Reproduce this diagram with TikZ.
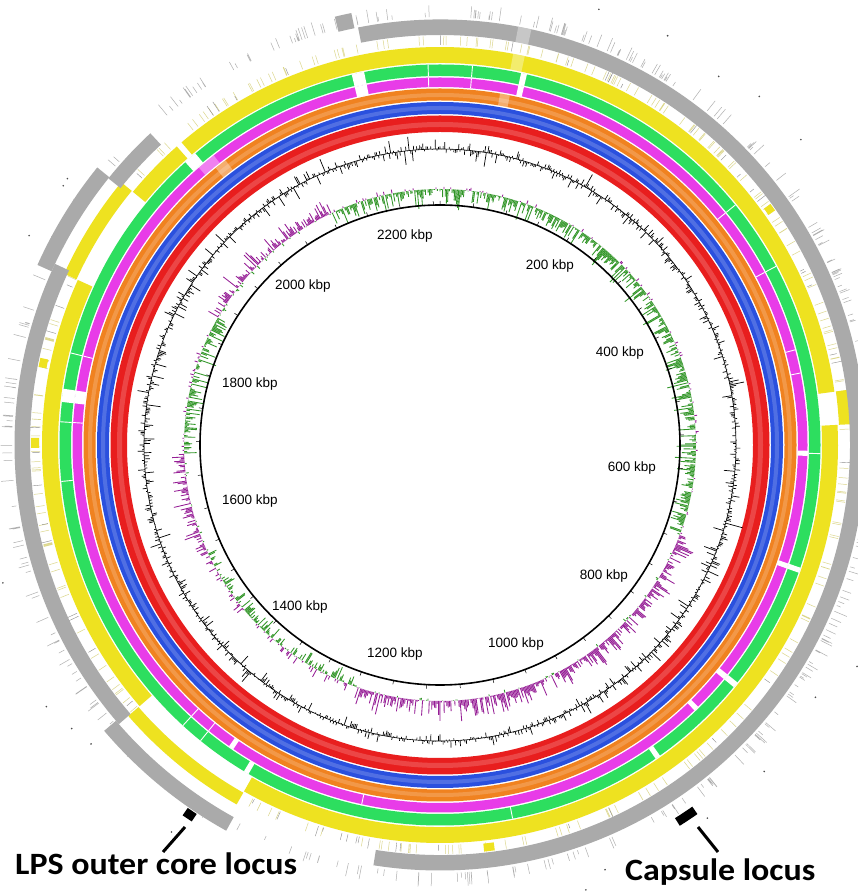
\documentclass[tikz,border=0pt]{standalone}
\usepackage{fontspec}
\setmainfont{Liberation Sans}
\newfontfamily\calfont{Carlito}
\definecolor{cgray}{RGB}{170,170,170}
\definecolor{cyel}{RGB}{238,226,32}
\definecolor{cgreen}{RGB}{45,222,95}
\definecolor{cmag}{RGB}{232,60,232}
\definecolor{corange}{RGB}{240,130,32}
\definecolor{cblue}{RGB}{42,80,222}
\definecolor{cred}{RGB}{232,30,30}
\definecolor{skewg}{RGB}{50,150,40}
\definecolor{skewp}{RGB}{150,30,150}
\definecolor{featy}{RGB}{220,215,140}
\definecolor{featg}{RGB}{175,175,175}
% annular sector: colour, r1, r2, theta1, theta2 (degrees clockwise from top)
\newcommand\ringsec[5]{\fill[#1] ({90-(#4)}:#3pt) arc[start angle={90-(#4)}, end angle={90-(#5)}, radius=#3pt] -- ({90-(#5)}:#2pt) arc[start angle={90-(#5)}, end angle={90-(#4)}, radius=#2pt] -- cycle;}
\newcommand\slitline[4]{\draw[white, line width=#4pt] ({90-(#3)}:#1pt) -- ({90-(#3)}:#2pt);}
\begin{document}
\begin{tikzpicture}[x=1pt,y=1pt,
  kbp/.style={font=\fontsize{13.5}{16}\selectfont, anchor=base, inner sep=0pt},
  bigl/.style={font=\calfont\bfseries\fontsize{31}{36}\selectfont, anchor=base west, inner sep=0pt, xscale=1.095},
  pointer/.style={line width=3pt, black}]
\useasboundingbox (0,0) rectangle (858,892);
\fill[white] (0,0) rectangle (858,892);
\begin{scope}[shift={(440,447)}]
  % faint feature lines
  \pgfmathsetseed{4242}
  \draw[featg, line width=0.5pt] \foreach \i [evaluate=\i as \a using {360*rnd}, evaluate=\i as \l using {4+10*rnd}] in {1,...,330} {(\a:428) -- (\a:{428+\l})};
  \draw[featy, line width=0.5pt] \foreach \i [evaluate=\i as \a using {360*rnd}] in {1,...,260} {(\a:400) -- (\a:409)};
  \draw[featg!80!black, line width=0.4pt] \foreach \i [evaluate=\i as \a using {360*rnd}, evaluate=\i as \l using {4+8*rnd}] in {1,...,60} {(\a:400) -- (\a:{400+\l})};
  \fill[black!70] \foreach \i [evaluate=\i as \a using {360*rnd}, evaluate=\i as \r using {452+22*rnd}] in {1,...,30} {(\a:\r) circle[radius=0.9pt]};
  % full rings
  \ringsec{cred}{313}{329.5}{0}{360}
  \ringsec{cblue}{331}{343}{0}{360}
  \ringsec{corange}{344.5}{356.5}{0}{360}
  \ringsec{cmag}{358}{367.5}{0}{360}
  \ringsec{cgreen}{369}{380.5}{0}{360}
  % yellow track
  \ringsec{cyel}{382}{398}{319.5}{442.3}
  \ringsec{cyel}{382}{398}{87.1}{209.5}
  \ringsec{cyel}{382}{398}{229}{294.5}
  \ringsec{cyel}{382}{398}{309.5}{318.6}
  \ringsec{cyel}{399.5}{413}{82.3}{87.1}
  \ringsec{cyel}{399.5}{413}{209.5}{229}
  \ringsec{cyel}{399.5}{413}{294.5}{309.5}
  \ringsec{cyel}{401}{409}{53.9}{55}
  \ringsec{cyel}{401}{409}{172.3}{173.8}
  \ringsec{cyel}{401}{409}{269.6}{271}
  \ringsec{cyel}{401}{409}{281}{282.3}
  % gray track
  \ringsec{cgray}{410}{425.5}{348.9}{549}
  \ringsec{cgray}{425.5}{441}{346.2}{348.4}
  \ringsec{cgray}{425.5}{441}{209}{229.6}
  \ringsec{cgray}{410}{425.5}{229}{295.2}
  \ringsec{cgray}{425.5}{441}{294.1}{309}
  \ringsec{cgray}{410}{425.5}{308.8}{317.1}
  % subtle highlights on the full rings
  \begin{scope}[opacity=0.18]
    \ringsec{white}{318}{323}{0}{360}
    \ringsec{white}{335}{339}{0}{360}
    \ringsec{white}{348}{352}{0}{360}
  \end{scope}
  % gaps in green and magenta
  \foreach \ta/\tb in {346.6/348.5, 12.3/13.2, 108.8/109.6, 128.6/129.5, 144.7/145.5, 210.2/211, 276.5/278.5, 318/320}{\ringsec{white}{368.6}{380.9}{\ta}{\tb}}
  \foreach \ta/\tb in {346.6/348.5, 12.3/13.2, 90.9/91.7, 108.8/109.6, 128.6/129.5, 135.4/136.2, 214.2/215, 276.5/278.5}{\ringsec{white}{357.6}{367.9}{\ta}{\tb}}
  \foreach \t in {358.2, 4.9, 50.9, 62, 91.3, 169, 219, 222.5, 264.5, 273.5, 284}{\slitline{369}{380.5}{\t}{0.9}}
  \foreach \t in {358.2, 4.9, 50.9, 62, 75, 78.7, 192.3, 219, 222.5, 273.5, 284}{\slitline{358}{367.5}{\t}{0.9}}
  \slitline{382}{398}{319}{1.2}
  % pale patches
  \begin{scope}[opacity=0.35]
    \ringsec{white}{358}{367.5}{319}{322}
    \ringsec{white}{344.5}{356.5}{9.7}{11.3}
    \ringsec{white}{344.5}{356.5}{321}{323}
    \ringsec{white}{382}{398}{10.6}{12.3}
    \ringsec{white}{410}{425.5}{10.6}{12.4}
  \end{scope}
  % GC content
  \draw[black, line width=0.6pt] (0,0) circle[radius=296pt];
  \pgfmathsetseed{777}
  \draw[black, line width=0.7pt] \foreach \i [evaluate=\i as \a using {90-0.3*\i}, evaluate=\i as \v using {17*rand*rnd*rnd + 4*rand + 16*(rnd>0.98)*rand}] in {0,...,1199} {(\a:296) -- (\a:{296+\v})};
  % GC skew
  \pgfmathsetseed{999}
  \draw[skewg, line width=0.85pt] \foreach \i [evaluate=\i as \t using {0.3*\i}, evaluate=\i as \b using {-0.7*(\t<110) + 0.7*(\t>110)*(\t<200) - 0.2*(\t>200)*(\t<245) + 0.7*(\t>245)*(\t<268) - 0.6*(\t>268)*(\t<300) + 0.6*(\t>300)*(\t<335) - 0.6*(\t>335)}, evaluate=\i as \v using {22*(0.6*\b+0.6*rand)*(0.3+0.7*rnd)}] in {0,...,1199} {({90-\t}:256) -- ({90-\t}:{256+min(\v,0)})};
  \pgfmathsetseed{999}
  \draw[skewp, line width=0.85pt] \foreach \i [evaluate=\i as \t using {0.3*\i}, evaluate=\i as \b using {-0.7*(\t<110) + 0.7*(\t>110)*(\t<200) - 0.2*(\t>200)*(\t<245) + 0.7*(\t>245)*(\t<268) - 0.6*(\t>268)*(\t<300) + 0.6*(\t>300)*(\t<335) - 0.6*(\t>335)}, evaluate=\i as \v using {22*(0.6*\b+0.6*rand)*(0.3+0.7*rnd)}] in {0,...,1199} {({90-\t}:256) -- ({90-\t}:{256+max(\v,0)})};
  % inner scale circle and ticks
  \draw[black, line width=1.6pt] (0,0) circle[radius=240pt];
  \draw[black, line width=0.5pt] \foreach \k in {0,50,...,2250} {({90-\k/2260*360}:240) -- ({90-\k/2260*360}:244)};
  % loci blocks
  \ringsec{black}{442}{451}{213.4}{214.8}
  \ringsec{black}{441}{450}{145.1}{147.8}
\end{scope}
% scale labels
\node[kbp] (l2200) at (405,652) {2200 kbp};
\node[kbp] (l200) at (550,622) {200 kbp};
\node[kbp] (l2000) at (303,602) {2000 kbp};
\node[kbp] (l400) at (620,535) {400 kbp};
\node[kbp] (l1800) at (250,504) {1800 kbp};
\node[kbp] (l600) at (632,420) {600 kbp};
\node[kbp] (l1600) at (250,387) {1600 kbp};
\node[kbp] (l800) at (604,312) {800 kbp};
\node[kbp] (l1400) at (300,281) {1400 kbp};
\node[kbp] (l1000) at (516,244) {1000 kbp};
\node[kbp] (l1200) at (395,234) {1200 kbp};
% locus labels and pointers
\node[bigl] (lps) at (15,17) {LPS outer core locus};
\node[bigl] (cap) at (625,11) {Capsule locus};
\coordinate (lpsA) at (163,40);
\coordinate (lpsB) at (185,65);
\coordinate (capA) at (698,65);
\coordinate (capB) at (718,40);
\draw[pointer] (lpsA) -- (lpsB);
\draw[pointer] (capA) -- (capB);
\end{tikzpicture}
\end{document}
